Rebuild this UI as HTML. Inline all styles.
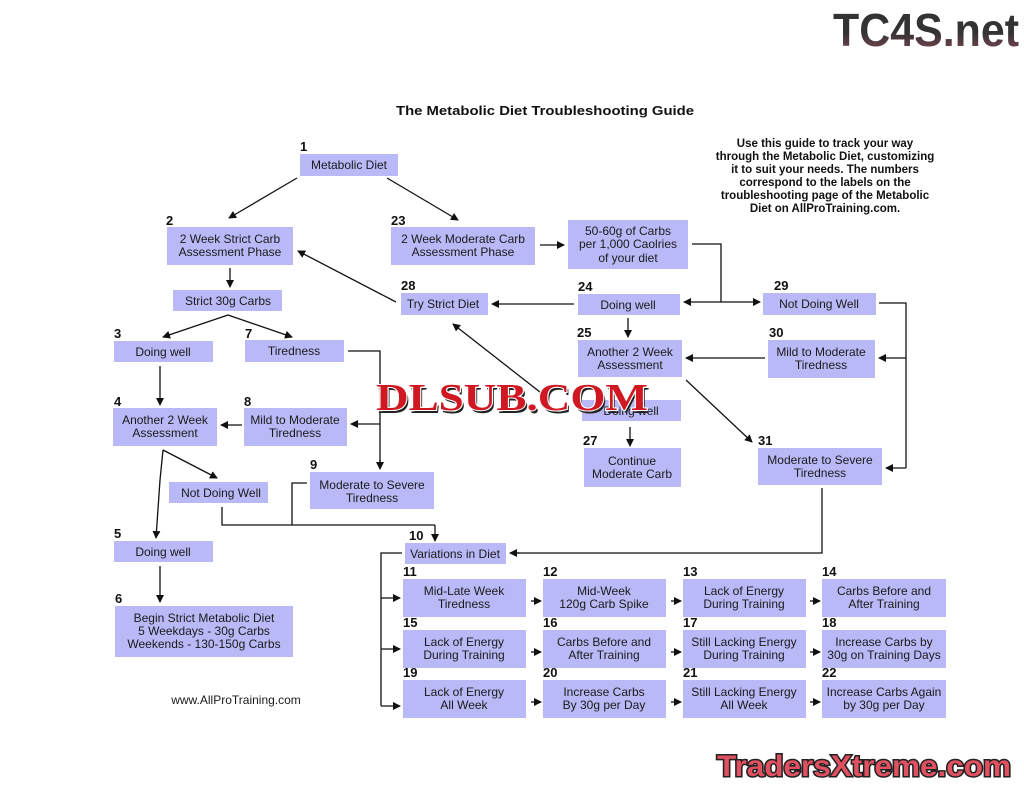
<!DOCTYPE html>
<html><head><meta charset="utf-8"><style>
html,body{margin:0;padding:0;background:#fff;}
svg{display:block;}
.b{fill:#b9b9f7;}
.t{font-family:"Liberation Sans",sans-serif;font-size:12px;fill:#1a1a1a;text-anchor:middle;}
.n{font-family:"Liberation Sans",sans-serif;font-size:13px;font-weight:bold;fill:#111;}
.l{stroke:#111;stroke-width:1.3;fill:none;}
.a{stroke:#111;stroke-width:1.3;fill:none;marker-end:url(#ar);}
</style></head><body>
<svg width="1024" height="791" viewBox="0 0 1024 791" xmlns="http://www.w3.org/2000/svg">
<defs>
<marker id="ar" markerWidth="8" markerHeight="8" refX="7" refY="4" orient="auto" markerUnits="userSpaceOnUse"><path d="M0,0 L8,4 L0,8 z" fill="#111"/></marker>
<linearGradient id="tg" x1="0" y1="0" x2="0" y2="1"><stop offset="0" stop-color="#333"/><stop offset="0.55" stop-color="#333"/><stop offset="1" stop-color="#8a4a55"/></linearGradient>
</defs>
<rect width="1024" height="791" fill="#fff"/>

<text x="926" y="46" font-family="Liberation Sans,sans-serif" font-weight="bold" font-size="46" fill="url(#tg)" text-anchor="middle" textLength="186" lengthAdjust="spacingAndGlyphs">TC4S.net</text>

<text x="545" y="115" font-family="Liberation Sans,sans-serif" font-weight="bold" font-size="13" fill="#111" text-anchor="middle" textLength="298" lengthAdjust="spacingAndGlyphs">The Metabolic Diet Troubleshooting Guide</text>
<g font-family="Liberation Sans,sans-serif" font-weight="bold" font-size="11.5" fill="#111" text-anchor="middle">
<text x="825" y="147">Use this guide to track your way</text>
<text x="825" y="160">through the Metabolic Diet, customizing</text>
<text x="825" y="173">it to suit your needs. The numbers</text>
<text x="825" y="186">correspond to the labels on the</text>
<text x="825" y="199">troubleshooting page of the Metabolic</text>
<text x="825" y="212">Diet on AllProTraining.com.</text>
</g>

<line class="a" x1="297" y1="178" x2="229" y2="218"/>
<line class="a" x1="387" y1="178" x2="458" y2="220"/>
<line class="a" x1="230" y1="268" x2="230" y2="287"/>
<line class="a" x1="228" y1="315" x2="163" y2="337"/>
<line class="a" x1="228" y1="315" x2="292" y2="337"/>
<line class="a" x1="160" y1="366" x2="160" y2="405"/>
<polyline class="l" points="348,351 380,351 380,468"/>
<line class="a" x1="380" y1="460" x2="380" y2="469"/>
<line class="a" x1="380" y1="424" x2="351" y2="424"/>
<line class="a" x1="242" y1="425" x2="221" y2="425"/>
<line class="a" x1="163" y1="450" x2="217" y2="478"/>
<polyline class="a" points="163,450 160,480 156,538"/>
<polyline class="l" points="222,507 222,525 435,525"/>
<line class="a" x1="435" y1="525" x2="435" y2="541"/>
<polyline class="l" points="307,483 292,483 292,525"/>
<line class="a" x1="160" y1="566" x2="160" y2="602"/>
<polyline class="l" points="402,553 381,553 381,706"/>
<line class="a" x1="381" y1="598" x2="400" y2="598"/>
<line class="a" x1="381" y1="649" x2="400" y2="649"/>
<line class="a" x1="381" y1="706" x2="400" y2="706"/>
<polyline class="l" points="822,488 822,553 512,553"/>
<line class="a" x1="520" y1="553" x2="510" y2="553"/>
<line class="a" x1="540" y1="245" x2="564" y2="245"/>
<polyline class="l" points="692,244 721,244 721,302"/>
<line class="a" x1="721" y1="302" x2="684" y2="302"/>
<line class="a" x1="721" y1="302" x2="760" y2="302"/>
<line class="a" x1="574" y1="304" x2="492" y2="304"/>
<line class="a" x1="396" y1="302" x2="298" y2="251"/>
<line class="a" x1="628" y1="318" x2="628" y2="337"/>
<line class="a" x1="545" y1="396" x2="453" y2="324"/>
<line class="a" x1="765" y1="358" x2="686" y2="358"/>
<line class="a" x1="686" y1="380" x2="752" y2="442"/>
<polyline class="l" points="879,303 906,303 906,468"/>
<line class="a" x1="906" y1="358" x2="879" y2="358"/>
<line class="a" x1="906" y1="468" x2="886" y2="468"/>
<line class="a" x1="630" y1="427" x2="630" y2="446"/>
<g>
<line class="a" x1="531" y1="601" x2="541" y2="601"/><line class="a" x1="671" y1="601" x2="681" y2="601"/><line class="a" x1="810" y1="601" x2="820" y2="601"/>
<line class="a" x1="531" y1="652" x2="541" y2="652"/><line class="a" x1="671" y1="652" x2="681" y2="652"/><line class="a" x1="810" y1="652" x2="820" y2="652"/>
<line class="a" x1="531" y1="702" x2="541" y2="702"/><line class="a" x1="671" y1="702" x2="681" y2="702"/><line class="a" x1="810" y1="702" x2="820" y2="702"/>
</g>

<g>
<rect class="b" x="300" y="154" width="98" height="22"/><text class="t" x="349" y="169">Metabolic Diet</text><text class="n" x="300" y="151">1</text>
<rect class="b" x="167" y="227" width="126" height="38"/><text class="t" x="230" y="243">2 Week Strict Carb</text><text class="t" x="230" y="256">Assessment Phase</text><text class="n" x="166" y="225">2</text>
<rect class="b" x="391" y="227" width="144" height="38"/><text class="t" x="463" y="243">2 Week Moderate Carb</text><text class="t" x="463" y="256">Assessment Phase</text><text class="n" x="391" y="225">23</text>
<rect class="b" x="568" y="220" width="120" height="49"/><text class="t" x="628" y="235">50-60g of Carbs</text><text class="t" x="628" y="248">per 1,000 Caolries</text><text class="t" x="628" y="262">of your diet</text>
<rect class="b" x="401" y="293" width="87" height="22"/><text class="t" x="443" y="308">Try Strict Diet</text><text class="n" x="401" y="290">28</text>
<rect class="b" x="578" y="294" width="102" height="21"/><text class="t" x="628" y="309">Doing well</text><text class="n" x="578" y="291">24</text>
<rect class="b" x="763" y="293" width="113" height="22"/><text class="t" x="819" y="308">Not Doing Well</text><text class="n" x="774" y="290">29</text>
<rect class="b" x="173" y="290" width="109" height="21"/><text class="t" x="228" y="305">Strict 30g Carbs</text>
<rect class="b" x="114" y="341" width="99" height="21"/><text class="t" x="163" y="356">Doing well</text><text class="n" x="114" y="338">3</text>
<rect class="b" x="245" y="340" width="99" height="22"/><text class="t" x="294" y="355">Tiredness</text><text class="n" x="245" y="338">7</text>
<rect class="b" x="578" y="340" width="104" height="37"/><text class="t" x="630" y="356">Another 2 Week</text><text class="t" x="630" y="369">Assessment</text><text class="n" x="577" y="337">25</text>
<rect class="b" x="768" y="340" width="107" height="38"/><text class="t" x="821" y="356">Mild to Moderate</text><text class="t" x="821" y="369">Tiredness</text><text class="n" x="769" y="337">30</text>
<rect class="b" x="113" y="408" width="104" height="38"/><text class="t" x="165" y="424">Another 2 Week</text><text class="t" x="165" y="437">Assessment</text><text class="n" x="114" y="406">4</text>
<rect class="b" x="244" y="408" width="103" height="38"/><text class="t" x="295" y="424">Mild to Moderate</text><text class="t" x="295" y="437">Tiredness</text><text class="n" x="244" y="406">8</text>
<rect class="b" x="582" y="400" width="99" height="21"/><text class="t" x="631" y="415">Doing well</text>
<rect class="b" x="584" y="448" width="97" height="39"/><text class="t" x="632" y="465">Continue</text><text class="t" x="632" y="478">Moderate Carb</text><text class="n" x="583" y="445">27</text>
<rect class="b" x="758" y="448" width="124" height="37"/><text class="t" x="820" y="464">Moderate to Severe</text><text class="t" x="820" y="477">Tiredness</text><text class="n" x="758" y="445">31</text>
<rect class="b" x="169" y="482" width="99" height="21"/><text class="t" x="221" y="497">Not Doing Well</text>
<rect class="b" x="310" y="472" width="124" height="37"/><text class="t" x="372" y="489">Moderate to Severe</text><text class="t" x="372" y="502">Tiredness</text><text class="n" x="310" y="469">9</text>
<rect class="b" x="114" y="541" width="99" height="21"/><text class="t" x="163" y="556">Doing well</text><text class="n" x="114" y="538">5</text>
<rect class="b" x="115" y="606" width="178" height="51"/><text class="t" x="204" y="622">Begin Strict Metabolic Diet</text><text class="t" x="204" y="635">5 Weekdays - 30g Carbs</text><text class="t" x="204" y="648">Weekends - 130-150g Carbs</text><text class="n" x="115" y="603">6</text>
<rect class="b" x="405" y="543" width="101" height="21"/><text class="t" x="455" y="558">Variations in Diet</text><text class="n" x="409" y="540">10</text>
</g>
<g>
<rect class="b" x="403" y="579" width="123" height="38"/><text class="t" x="464" y="595">Mid-Late Week</text><text class="t" x="464" y="608">Tiredness</text><text class="n" x="403" y="576">11</text>
<rect class="b" x="543" y="579" width="123" height="38"/><text class="t" x="604" y="595">Mid-Week</text><text class="t" x="604" y="608">120g Carb Spike</text><text class="n" x="543" y="576">12</text>
<rect class="b" x="683" y="579" width="123" height="38"/><text class="t" x="744" y="595">Lack of Energy</text><text class="t" x="744" y="608">During Training</text><text class="n" x="683" y="576">13</text>
<rect class="b" x="822" y="579" width="124" height="38"/><text class="t" x="884" y="595">Carbs Before and</text><text class="t" x="884" y="608">After Training</text><text class="n" x="822" y="576">14</text>
<rect class="b" x="403" y="630" width="123" height="38"/><text class="t" x="464" y="646">Lack of Energy</text><text class="t" x="464" y="659">During Training</text><text class="n" x="403" y="627">15</text>
<rect class="b" x="543" y="630" width="123" height="38"/><text class="t" x="604" y="646">Carbs Before and</text><text class="t" x="604" y="659">After Training</text><text class="n" x="543" y="627">16</text>
<rect class="b" x="683" y="630" width="123" height="38"/><text class="t" x="744" y="646">Still Lacking Energy</text><text class="t" x="744" y="659">During Training</text><text class="n" x="683" y="627">17</text>
<rect class="b" x="822" y="630" width="124" height="38"/><text class="t" x="884" y="646">Increase Carbs by</text><text class="t" x="884" y="659">30g on Training Days</text><text class="n" x="822" y="627">18</text>
<rect class="b" x="403" y="680" width="123" height="38"/><text class="t" x="464" y="696">Lack of Energy</text><text class="t" x="464" y="709">All Week</text><text class="n" x="403" y="677">19</text>
<rect class="b" x="543" y="680" width="123" height="38"/><text class="t" x="604" y="696">Increase Carbs</text><text class="t" x="604" y="709">By 30g per Day</text><text class="n" x="543" y="677">20</text>
<rect class="b" x="683" y="680" width="123" height="38"/><text class="t" x="744" y="696">Still Lacking Energy</text><text class="t" x="744" y="709">All Week</text><text class="n" x="683" y="677">21</text>
<rect class="b" x="822" y="680" width="124" height="38"/><text class="t" x="884" y="696">Increase Carbs Again</text><text class="t" x="884" y="709">by 30g per Day</text><text class="n" x="822" y="677">22</text>
</g>

<text class="t" x="236" y="704" font-size="11">www.AllProTraining.com</text>

<text x="512" y="410" font-family="Liberation Serif,serif" font-weight="bold" font-size="38" fill="#222" text-anchor="middle" textLength="272" lengthAdjust="spacingAndGlyphs" transform="translate(2,3)">DLSUB.COM</text>
<text x="512" y="410" font-family="Liberation Serif,serif" font-weight="bold" font-size="38" fill="#d01822" stroke="#fff" stroke-width="2" paint-order="stroke" text-anchor="middle" textLength="272" lengthAdjust="spacingAndGlyphs">DLSUB.COM</text>
<text x="864" y="776" font-family="Liberation Sans,sans-serif" font-weight="bold" font-size="30" fill="#e05060" stroke="#222" stroke-width="3" paint-order="stroke" text-anchor="middle" textLength="294" lengthAdjust="spacingAndGlyphs">TradersXtreme.com</text>
</svg>
</body></html>
